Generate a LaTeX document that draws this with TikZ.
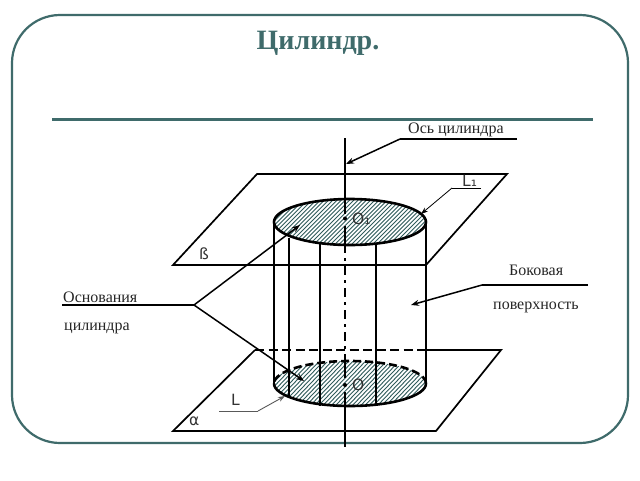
\documentclass[tikz,border=0pt]{standalone}
\usepackage{fontspec}
\setmainfont{Liberation Serif}
\newfontfamily\labfont{DejaVu Sans}
\usetikzlibrary{arrows.meta}
\definecolor{frameteal}{HTML}{3F6B6B}
\definecolor{hatchteal}{HTML}{2F5A5A}
\tikzset{
 framebox/.style={draw=frameteal,line width=2.2pt,rounded corners=48pt},
 ruleline/.style={draw=frameteal,line width=3pt},
 planeline/.style={draw=black,line width=1.7pt},
 cylline/.style={draw=black,line width=2.3pt},
 thickline/.style={draw=black,line width=2.6pt},
 leader/.style={draw=black,line width=1.5pt},
 leadarrow/.style={leader,-{Stealth[length=8pt,width=6pt]}},
 thinlead/.style={draw=black,line width=.8pt},
 thinarrow/.style={thinlead,-{Stealth[length=7pt,width=5pt]}},
 graylead/.style={draw=black!65,line width=.9pt},
 grayarrow/.style={graylead,-{Stealth[length=7pt,width=5pt]}},
 hatch/.style={draw=hatchteal,line width=.9pt},
 lbl/.style={inner sep=0pt,font=\fontsize{16}{18}\selectfont,text=black!85},
 sanslbl/.style={inner sep=0pt,font=\labfont\fontsize{15.5}{18}\selectfont,text=black!80},
 titlelbl/.style={inner sep=0pt,font=\fontsize{28}{32}\selectfont\bfseries,text=frameteal},
}
\begin{document}
\begin{tikzpicture}[x=1pt,y=-1pt]
\useasboundingbox (0,0) rectangle (640,480);
\fill[white] (0,0) rectangle (640,480);
\draw[framebox] (12,15) rectangle (628,443);
\node[titlelbl] (title) at (318,43) {Цилиндр.};
\coordinate (ruleL) at (52,119); \coordinate (ruleR) at (593,119);
\draw[ruleline] (ruleL) -- (ruleR);
% upper plane
\coordinate (ua) at (173,265); \coordinate (ub) at (257,174);
\coordinate (uc) at (507,174); \coordinate (ud) at (426,265);
\draw[planeline] (ud) -- (ua) -- (ub) -- (uc) -- (ud);
% lower plane
\coordinate (la) at (173,431); \coordinate (lb) at (255,350);
\coordinate (lc) at (501,350); \coordinate (ld) at (436,431);
\coordinate (le) at (426,350);
\draw[planeline] (le) -- (lc) -- (ld) -- (la) -- (lb);
\draw[cylline,dash pattern=on 9pt off 4.5pt] (lb) -- (le);
% bottom base
\begin{scope}
\clip (350,383.5) ellipse [x radius=76,y radius=22.5];
\foreach \i in {0,...,60}{\draw[hatch] ({180+\i*4.2},410) -- ({180+\i*4.2+50},358);}
\end{scope}
\draw[thickline] (274,383.5) arc [start angle=180,end angle=0,x radius=76,y radius=22.5];
\draw[thickline,dash pattern=on 8pt off 4pt] (426,383.5) arc [start angle=0,end angle=-180,x radius=76,y radius=22.5];
% top base
\filldraw[fill=white,draw=none] (350,222) ellipse [x radius=76,y radius=23];
\begin{scope}
\clip (350,222) ellipse [x radius=76,y radius=23];
\foreach \i in {0,...,60}{\draw[hatch] ({180+\i*4.2},248) -- ({180+\i*4.2+52},196);}
\end{scope}
\draw[thickline] (350,222) ellipse [x radius=76,y radius=23];
% generators
\coordinate (g1t) at (274,222); \coordinate (g1b) at (274,384);
\coordinate (g2t) at (426,222); \coordinate (g2b) at (426,384);
\coordinate (g3t) at (289,238); \coordinate (g3b) at (289,398);
\coordinate (g4t) at (320,243); \coordinate (g4b) at (320,406);
\coordinate (g5t) at (376,243); \coordinate (g5b) at (376,406);
\foreach \n in {1,...,5}{\draw[cylline] (g\n t) -- (g\n b);}
% axis
\coordinate (axT) at (345,138); \coordinate (ax1) at (345,214);
\coordinate (ax2) at (345,226); \coordinate (ax3) at (345,244);
\coordinate (ax4) at (345,358); \coordinate (ax5) at (345,378);
\coordinate (ax6) at (345,392); \coordinate (axB) at (345,447);
\draw[cylline] (axT) -- (ax1);
\draw[cylline] (ax2) -- (ax3);
\draw[cylline,dash pattern=on 9pt off 5pt on 3pt off 5pt] (ax3) -- (ax4);
\draw[cylline] (ax4) -- (ax5);
\draw[cylline] (ax6) -- (axB);
\fill (345,218.5) circle (2pt);
\fill (345,385) circle (2pt);
% leaders
\coordinate (osA) at (517,139); \coordinate (osB) at (400,139); \coordinate (osC) at (346,164);
\draw[leader] (osA) -- (osB);
\draw[leadarrow] (osB) -- (osC);
\coordinate (lA) at (481,188); \coordinate (lB) at (452,188); \coordinate (lC) at (421,214);
\draw[thinlead] (lA) -- (lB);
\draw[thinarrow] (lB) -- (lC);
\coordinate (bA) at (62,305); \coordinate (bB) at (194,305);
\coordinate (bC) at (300,225); \coordinate (bD) at (304,381);
\draw[leader] (bA) -- (bB);
\draw[leadarrow] (bB) -- (bC);
\draw[leadarrow] (bB) -- (bD);
\coordinate (sA) at (588,285); \coordinate (sB) at (482,285); \coordinate (sC) at (411,305);
\draw[leader] (sA) -- (sB);
\draw[leadarrow] (sB) -- (sC);
\coordinate (mA) at (219,411); \coordinate (mB) at (258,411); \coordinate (mC) at (285,396);
\draw[graylead] (mA) -- (mB);
\draw[grayarrow] (mB) -- (mC);
% labels
\node[lbl,anchor=west] (tAxis) at (408,130) {Ось цилиндра};
\node[lbl,anchor=west] (tOsn) at (63,297) {Основания};
\node[lbl,anchor=west] (tCyl) at (64,328.5) {цилиндра};
\node[lbl,anchor=west] (tBok) at (509,270.5) {Боковая};
\node[lbl,anchor=west] (tPov) at (493,307) {поверхность};
\node[sanslbl,anchor=west] (tL1) at (462,181) {L₁};
\node[sanslbl,anchor=west] (tO1) at (352,219) {O₁};
\node[sanslbl,anchor=west] (tB) at (199,254) {ß};
\node[sanslbl,anchor=west] (tO) at (352,385) {O};
\node[sanslbl,anchor=west] (tLL) at (231,400) {L};
\node[sanslbl,anchor=west] (tAl) at (189,421) {α};
\end{tikzpicture}
\end{document}
